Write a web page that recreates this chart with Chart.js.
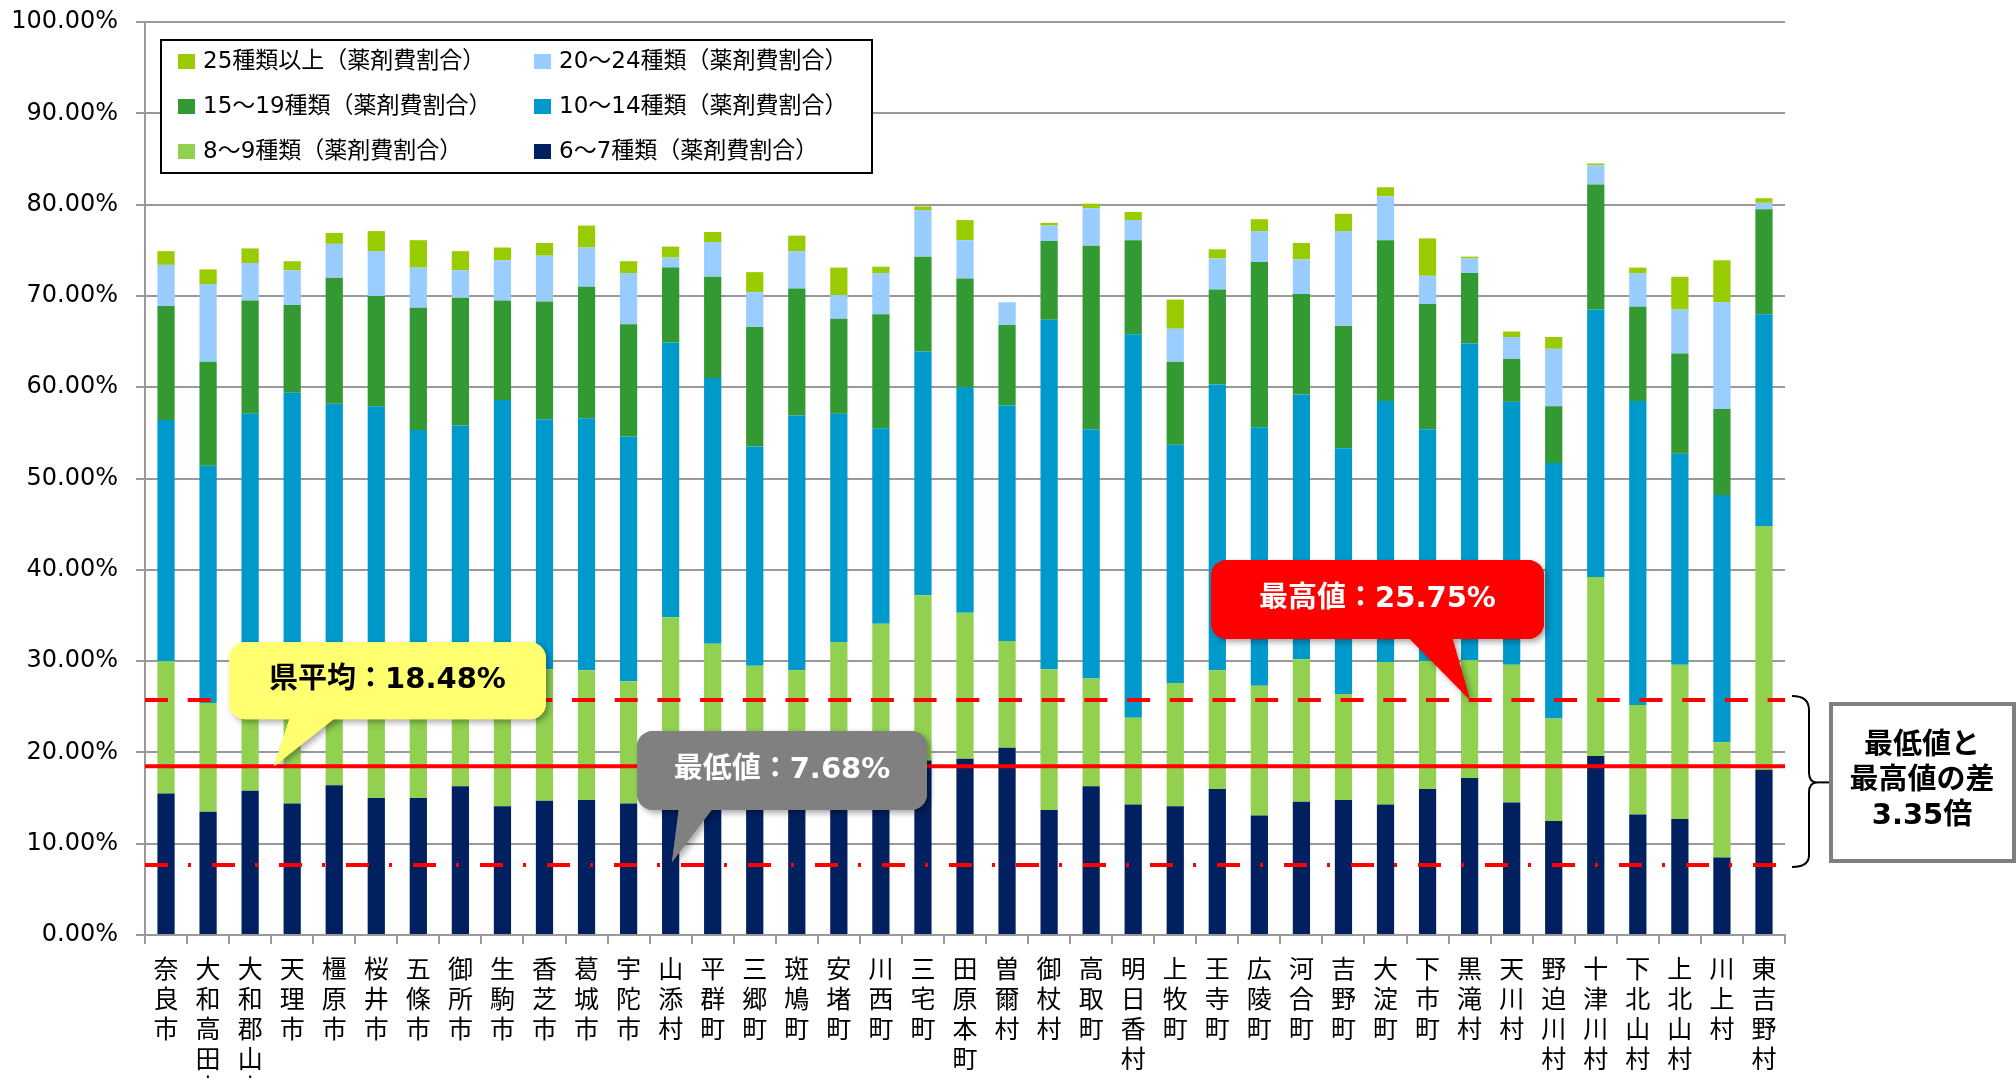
<!DOCTYPE html>
<html lang="ja">
<head>
<meta charset="utf-8">
<title>薬剤費割合</title>
<script src="https://cdn.jsdelivr.net/npm/chart.js@4/dist/chart.umd.min.js"></script>
<style>
  html, body { margin: 0; padding: 0; background: #fff; }
  #wrap { width: 2016px; height: 1078px; }
</style>
</head>
<body>
<div id="wrap"><canvas id="chart" width="2016" height="1078"></canvas></div>
<script>
// municipalities (x axis)
const towns = [
  "奈良市", "大和高田市", "大和郡山市", "天理市", "橿原市", "桜井市", "五條市", "御所市",
  "生駒市", "香芝市", "葛城市", "宇陀市", "山添村", "平群町", "三郷町", "斑鳩町",
  "安堵町", "川西町", "三宅町", "田原本町", "曽爾村", "御杖村", "高取町", "明日香村",
  "上牧町", "王寺町", "広陵町", "河合町", "吉野町", "大淀町", "下市町", "黒滝村",
  "天川村", "野迫川村", "十津川村", "下北山村", "上北山村", "川上村", "東吉野村",
];

// share of drug cost (%) by number of drug kinds
const kinds6to7 = [15.5, 13.5, 15.8, 14.4, 16.4, 15.0, 15.0, 16.3, 14.1, 14.7, 14.8, 14.4, 14.0, 14.5, 14.0, 14.0, 14.0, 14.0, 19.1, 19.3, 20.5, 13.7, 16.3, 14.3, 14.1, 16.0, 13.1, 14.6, 14.8, 14.3, 16.0, 17.2, 14.5, 12.5, 19.6, 13.2, 12.7, 8.5, 18.1];
const kinds8to9 = [14.5, 11.9, 13.7, 15.1, 12.6, 14.0, 13.5, 12.7, 14.9, 14.4, 14.2, 13.4, 20.8, 17.4, 15.5, 15.0, 18.1, 20.1, 18.1, 16.0, 11.7, 15.4, 11.8, 9.5, 13.5, 13.0, 14.2, 15.6, 11.6, 15.6, 14.0, 12.9, 15.1, 11.2, 19.6, 12.0, 16.9, 12.6, 26.7];
const kinds10to14 = [26.4, 26.0, 27.6, 29.9, 29.2, 28.9, 26.8, 26.8, 29.6, 27.4, 27.6, 26.8, 30.1, 29.1, 24.0, 27.9, 25.0, 21.4, 26.7, 24.7, 25.8, 38.3, 27.3, 42.0, 26.1, 31.3, 28.3, 29.0, 26.9, 28.6, 25.4, 34.7, 28.8, 28.0, 29.3, 33.3, 23.1, 27.1, 23.2];
const kinds15to19 = [12.5, 11.4, 12.4, 9.6, 13.8, 12.1, 13.4, 14.0, 10.9, 12.9, 14.4, 12.3, 8.2, 11.1, 13.1, 13.9, 10.4, 12.5, 10.4, 11.9, 8.8, 8.6, 20.1, 10.3, 9.1, 10.4, 18.1, 11.0, 13.4, 17.6, 13.7, 7.7, 4.7, 6.2, 13.7, 10.3, 11.0, 9.4, 11.5];
const kinds20to24 = [4.5, 8.5, 4.1, 3.8, 3.7, 4.9, 4.4, 3.0, 4.4, 5.0, 4.3, 5.6, 1.1, 3.8, 3.8, 4.1, 2.6, 4.5, 5.1, 4.2, 2.5, 1.7, 4.1, 2.2, 3.6, 3.4, 3.4, 3.8, 10.4, 4.8, 3.1, 1.6, 2.4, 6.3, 2.1, 3.7, 4.8, 11.7, 0.7];
const kinds25up = [1.5, 1.6, 1.6, 1.0, 1.2, 2.2, 3.0, 2.1, 1.4, 1.4, 2.4, 1.3, 1.2, 1.1, 2.2, 1.7, 3.0, 0.7, 0.4, 2.2, 0, 0.3, 0.5, 0.9, 3.2, 1.0, 1.3, 1.8, 1.9, 1.0, 4.1, 0.2, 0.6, 1.3, 0.2, 0.6, 3.6, 4.6, 0.5];

// reference lines (%)
const prefAverage = 18.48;
const maxValue = 25.75;
const minValue = 7.68;

const FONT = '"DejaVu Sans", "Noto Sans CJK JP", sans-serif';
const JP = '"Noto Sans CJK JP", sans-serif';

const series = [
  { label: "6～7種類（薬剤費割合）", data: kinds6to7, color: "#002060" },
  { label: "8～9種類（薬剤費割合）", data: kinds8to9, color: "#92D050" },
  { label: "10～14種類（薬剤費割合）", data: kinds10to14, color: "#0099CC" },
  { label: "15～19種類（薬剤費割合）", data: kinds15to19, color: "#339933" },
  { label: "20～24種類（薬剤費割合）", data: kinds20to24, color: "#99CCFF" },
  { label: "25種類以上（薬剤費割合）", data: kinds25up, color: "#99CC00" },
];

// legend layout: two columns, three rows (order as in the original)
const legendOrder = [5, 4, 3, 2, 1, 0];

function callout(ctx, box, tail, fill, text, textColor) {
  const drawShape = () => {
    ctx.beginPath();
    ctx.roundRect(box.x, box.y, box.w, box.h, 16);
    ctx.fill();
    ctx.beginPath();
    ctx.moveTo(tail[0][0], tail[0][1]);
    ctx.lineTo(tail[1][0], tail[1][1]);
    ctx.lineTo(tail[2][0], tail[2][1]);
    ctx.closePath();
    ctx.fill();
  };
  ctx.save();
  ctx.fillStyle = fill;
  ctx.shadowColor = "rgba(0,0,0,0.35)";
  ctx.shadowBlur = 6;
  ctx.shadowOffsetX = 3;
  ctx.shadowOffsetY = 3;
  drawShape();
  ctx.restore();
  ctx.save();
  ctx.fillStyle = fill;
  drawShape();
  ctx.fillStyle = textColor;
  ctx.font = "bold 29px " + FONT;
  ctx.textAlign = "center";
  ctx.textBaseline = "middle";
  ctx.fillText(text, box.x + box.w / 2, box.y + box.h / 2);
  ctx.restore();
}

const overlayPlugin = {
  id: "overlay",
  afterDatasetsDraw(chart) {
    const { ctx, chartArea: a, scales: { y } } = chart;

    // reference lines
    const hline = (v, dash) => {
      const py = y.getPixelForValue(v);
      ctx.save();
      ctx.strokeStyle = "#FF0000";
      ctx.lineWidth = 4;
      ctx.setLineDash(dash);
      ctx.beginPath();
      ctx.moveTo(a.left, py);
      ctx.lineTo(a.right, py);
      ctx.stroke();
      ctx.restore();
    };
    hline(maxValue, [23, 19.7]);
    hline(prefAverage, []);
    hline(minValue, [23, 20, 3, 21]);

    const yMax = y.getPixelForValue(maxValue);
    const yAvg = y.getPixelForValue(prefAverage);
    const yMin = y.getPixelForValue(minValue);

    // legend box
    ctx.save();
    ctx.fillStyle = "#fff";
    ctx.fillRect(161, 40, 711, 133);
    ctx.strokeStyle = "#000";
    ctx.lineWidth = 2;
    ctx.strokeRect(161, 40, 711, 133);
    ctx.font = "23px " + FONT;
    ctx.textBaseline = "middle";
    ctx.textAlign = "left";
    legendOrder.forEach((si, i) => {
      const col = i % 2, row = Math.floor(i / 2);
      const x = col === 0 ? 178 : 534;
      const cy = 61 + row * 45;
      ctx.fillStyle = series[si].color;
      ctx.fillRect(x, cy - 7, 17, 15);
      ctx.fillStyle = "#000";
      ctx.fillText(series[si].label, x + 25, cy + 1);
    });
    ctx.restore();

    // callouts
    callout(ctx, { x: 229, y: yAvg - 124, w: 317, h: 77 },
      [[290, yAvg - 49], [336, yAvg - 49], [274, yAvg]],
      "#FFFF70", "県平均：" + prefAverage.toFixed(2) + "%", "#000");
    callout(ctx, { x: 637, y: yMin - 134, w: 290, h: 79 },
      [[679, yMin - 57], [713, yMin - 57], [672, yMin - 3]],
      "#808080", "最低値：" + minValue.toFixed(2) + "%", "#fff");
    callout(ctx, { x: 1211, y: yMax - 140, w: 333, h: 79 },
      [[1408, yMax - 63], [1452, yMax - 63], [1470, yMax]],
      "#FF0000", "最高値：" + maxValue.toFixed(2) + "%", "#fff");

    // brace between min and max
    const bx = a.right + 7, vx = a.right + 24, mid = (yMax + yMin) / 2;
    ctx.save();
    ctx.strokeStyle = "#000";
    ctx.lineWidth = 2;
    ctx.beginPath();
    ctx.moveTo(bx, yMax - 4);
    ctx.quadraticCurveTo(vx, yMax - 4, vx, yMax + 10);
    ctx.lineTo(vx, mid - 10);
    ctx.quadraticCurveTo(vx, mid, vx + 8, mid);
    ctx.quadraticCurveTo(vx, mid, vx, mid + 10);
    ctx.lineTo(vx, yMin - 10);
    ctx.quadraticCurveTo(vx, yMin + 2, bx, yMin + 2);
    ctx.stroke();
    ctx.beginPath();
    ctx.moveTo(vx + 8, mid);
    ctx.lineTo(1830, mid);
    ctx.stroke();

    // ratio box
    ctx.fillStyle = "#fff";
    ctx.fillRect(1831, 704, 183, 157);
    ctx.strokeStyle = "#7F7F7F";
    ctx.lineWidth = 4;
    ctx.strokeRect(1831, 704, 183, 157);
    ctx.fillStyle = "#000";
    ctx.font = "bold 29px " + FONT;
    ctx.textAlign = "center";
    ctx.textBaseline = "middle";
    const ratio = (maxValue / minValue).toFixed(2);
    ctx.fillText("最低値と", 1922, 746);
    ctx.fillText("最高値の差", 1922, 781);
    ctx.fillText(ratio + "倍", 1922, 816);
    ctx.restore();
  },
};

new Chart(document.getElementById("chart"), {
  type: "bar",
  data: {
    labels: towns.map((t) => Array.from(t)),
    datasets: series.map((s) => ({
      label: s.label,
      data: s.data,
      backgroundColor: s.color,
      borderWidth: 0,
      barPercentage: 0.41,
      categoryPercentage: 1,
    })),
  },
  options: {
    responsive: false,
    animation: false,
    layout: { padding: { top: 22, right: 231, left: 0, bottom: 0 } },
    plugins: {
      legend: { display: false },
      tooltip: { enabled: false },
    },
    scales: {
      x: {
        stacked: true,
        afterFit: (s) => { s.height = 143; },
        grid: { drawOnChartArea: false, color: "#999", lineWidth: 2, tickLength: 9 },
        border: { color: "#999", width: 2 },
        ticks: {
          color: "#000",
          maxRotation: 0,
          autoSkip: false,
          padding: 10,
          font: { family: JP, size: 25, lineHeight: 1.19 },
        },
      },
      y: {
        stacked: true,
        min: 0,
        max: 100,
        afterFit: (s) => {
          s.width = 145;
          s.paddingTop = 0;
          s.paddingBottom = 0;
        },
        grid: { color: "#999", lineWidth: 2, tickLength: 9 },
        border: { color: "#999", width: 2 },
        ticks: {
          stepSize: 10,
          color: "#000",
          padding: 18,
          font: { family: FONT, size: 24 },
          callback: (v) => v.toFixed(2) + "%",
        },
      },
    },
  },
  plugins: [overlayPlugin],
});
</script>
</body>
</html>
